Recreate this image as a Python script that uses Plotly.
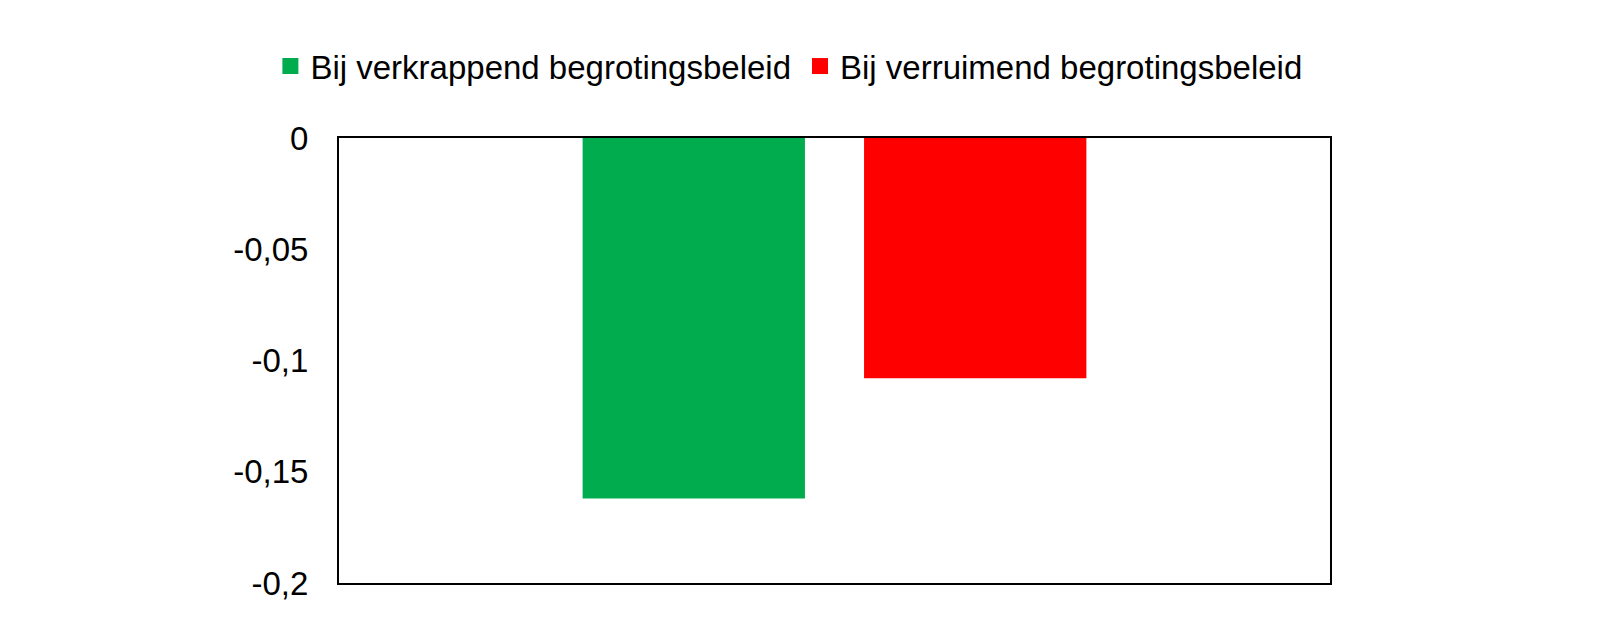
import plotly.graph_objects as go

# data
category = [""]
series_names = ["Bij verkrappend begrotingsbeleid", "Bij verruimend begrotingsbeleid"]
series_values = [[-0.162], [-0.108]]
series_colors = ["#00AC4E", "#FF0000"]

tick_vals = [0, -0.05, -0.1, -0.15, -0.2]
tick_text = ["0", "-0,05", "-0,1", "-0,15", "-0,2"]

fig = go.Figure()
for name, vals, col in zip(series_names, series_values, series_colors):
    fig.add_bar(x=category, y=vals, name=name, marker_color=col,
                marker_line_width=0, showlegend=False)

# legend entries with bigger square swatches, one legend per entry so
# they sit on one row like the Excel legend
legend_ids = ["legend", "legend2"]
for name, col, lg in zip(series_names, series_colors, legend_ids):
    fig.add_scatter(x=[None], y=[None], name=name, mode="markers", legend=lg,
                    marker=dict(symbol="square", size=16, color=col))

leg_style = dict(orientation="h", xref="container", yref="container",
                 xanchor="left", y=0.906, yanchor="middle",
                 font=dict(size=33), itemwidth=30, bgcolor="rgba(0,0,0,0)")

fig.update_layout(
    width=1600, height=618,
    margin=dict(l=331, r=278, t=130, b=43, autoexpand=False),
    paper_bgcolor="white", plot_bgcolor="white",
    font=dict(family="Liberation Sans, Arial", size=33, color="black"),
    barmode="group", bargap=0.432, bargroupgap=0.21,
    showlegend=True,
    legend=dict(x=0.164, **leg_style),
    legend2=dict(x=0.495, **leg_style),
)
fig.update_xaxes(showticklabels=False, showgrid=False, zeroline=False,
                 showline=True, linecolor="black", linewidth=2, mirror=True, ticks="")
fig.update_yaxes(range=[-0.2, 0], tickvals=tick_vals, ticktext=tick_text,
                 showgrid=False, zeroline=False, ticks="", ticklabelstandoff=22,
                 showline=True, linecolor="black", linewidth=2, mirror=True)

fig.write_html("out.html")
